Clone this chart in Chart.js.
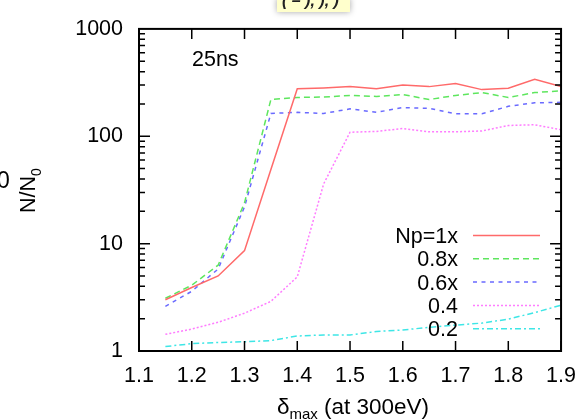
<!DOCTYPE html>
<html><head><meta charset="utf-8">
<script src="https://cdn.jsdelivr.net/npm/chart.js@4/dist/chart.umd.min.js"></script>
<style>html,body{margin:0;padding:0;background:#fff;}</style>
</head><body>
<canvas id="c" width="588" height="420"></canvas>
<script>
const xValues = [1.15,1.2,1.25,1.3,1.35,1.4,1.45,1.5,1.55,1.6,1.65,1.7,1.75,1.8,1.85,1.9];
const np10 = [3.0,3.9,5.0,8.6,49,277,282,290,277,300,290,310,272,280,340,290];
const np08 = [3.1,4.1,6.3,24,220,230,232,240,235,245,220,240,255,230,255,265];
const np06 = [2.6,3.6,5.8,22,163,167,163,180,167,185,182,162,162,190,205,207];
const np04 = [1.43,1.6,1.85,2.25,2.9,4.9,36,109,111,118,110,110,112,126,128,115];
const np02 = [1.10,1.17,1.2,1.22,1.25,1.38,1.41,1.41,1.52,1.57,1.66,1.74,1.82,1.98,2.28,2.67];
const seriesLabels = ['Np=1x','0.8x','0.6x','0.4','0.2'];
const xTicks = [1.1,1.2,1.3,1.4,1.5,1.6,1.7,1.8,1.9];
const yTicks = [1,10,100,1000];

const FONT = 'Liberation Sans';
const FS = 21.5;
const colors = ['#ff6a6a','#5ee65e','#6a6aff','#ff7cff','#3ee6e6'];
const dashes = [[],[6,4],[4,4.5],[2,2],[6,3,2,3]];
const seriesData = [np10,np08,np06,np04,np02];

const datasets = seriesData.map((arr,i)=>({
  label: seriesLabels[i],
  data: xValues.map((x,j)=>({x:x,y:arr[j]})),
  borderColor: colors[i],
  borderDash: dashes[i],
  borderWidth: 1.5,
  pointRadius: 0,
  tension: 0,
  fill: false
}));

const deco = {
  id:'deco',
  afterDraw(chart){
    const {ctx, chartArea:a, scales:{x,y}} = chart;
    ctx.save();
    ctx.strokeStyle='#000'; ctx.lineWidth=2;
    ctx.strokeRect(a.left,a.top,a.right-a.left,a.bottom-a.top);
    ctx.lineWidth=1.5;
    ctx.beginPath();
    xTicks.forEach(v=>{
      const px=x.getPixelForValue(v);
      ctx.moveTo(px,a.bottom); ctx.lineTo(px,a.bottom-10);
      ctx.moveTo(px,a.top); ctx.lineTo(px,a.top+10);
    });
    for(let k=0;k<3;k++){
      for(let m=1;m<=9;m++){
        const v=m*Math.pow(10,k);
        const len = m===1?11:6;
        const py=y.getPixelForValue(v);
        ctx.moveTo(a.left,py); ctx.lineTo(a.left+len,py);
        ctx.moveTo(a.right,py); ctx.lineTo(a.right-len,py);
      }
    }
    ctx.stroke();

    const big=FS+'px "'+FONT+'"', small='14px "'+FONT+'"';
    // legend
    ctx.font = big;
    ctx.fillStyle='#000';
    ctx.textAlign='right'; ctx.textBaseline='alphabetic';
    chart.data.datasets.forEach((ds,i)=>{
      const by = 243 + i*23.3;
      ctx.fillText(ds.label, 458, by);
      ctx.save();
      ctx.strokeStyle=ds.borderColor; ctx.lineWidth=ds.borderWidth;
      ctx.setLineDash(ds.borderDash);
      ctx.beginPath(); ctx.moveTo(473, by-7.5); ctx.lineTo(540, by-7.5); ctx.stroke();
      ctx.restore();
    });

    // 25ns
    ctx.textAlign='left';
    ctx.fillText('25ns', 192, 66);

    // x title
    const tbig='22.5px "'+FONT+'"', tsmall='15px "'+FONT+'"';
    ctx.font=tbig; const w1=ctx.measureText('\u03b4').width; const w3=ctx.measureText(' (at 300eV)').width;
    ctx.font=tsmall; const w2=ctx.measureText('max').width;
    let sx = 353 - (w1+w2+w3)/2;
    ctx.font=tbig; ctx.fillText('\u03b4', sx, 414);
    ctx.font=tsmall; ctx.fillText('max', sx+w1, 419);
    ctx.font=tbig; ctx.fillText(' (at 300eV)', sx+w1+w2, 414);

    // y title
    ctx.save();
    ctx.translate(35, 213); ctx.rotate(-Math.PI/2);
    ctx.font=big; ctx.fillText('N/N', 0, 0);
    const wn=ctx.measureText('N/N').width;
    ctx.font=small; ctx.fillText('0', wn, 6);
    ctx.restore();

    // clipped label at left edge
    ctx.font='23px "'+FONT+'"';
    ctx.fillText('0', -3, 188);

    // clipped note box at top
    ctx.save();
    ctx.shadowColor='rgba(0,0,0,0.35)'; ctx.shadowBlur=6;
    ctx.fillStyle='#ffffcc';
    ctx.fillRect(277,-2,73,14);
    ctx.restore();
    ctx.save();
    ctx.beginPath(); ctx.rect(277,0,73,12); ctx.clip();
    ctx.fillStyle='#222'; ctx.font='italic bold 16px "'+FONT+'"';
    ctx.textAlign='left';
    ctx.fillText('( \u2013 ), ), )', 282, 6);
    ctx.restore();
    ctx.restore();
  }
};

new Chart(document.getElementById('c'), {
  type:'line',
  data:{datasets},
  options:{
    responsive:false, animation:false, devicePixelRatio:1,
    layout:{padding:{top:27,right:21,left:0,bottom:0}},
    plugins:{legend:{display:false}, tooltip:{enabled:false}},
    scales:{
      x:{type:'linear', min:1.1, max:1.9,
        afterBuildTicks:s=>{s.ticks=xTicks.map(v=>({value:v}));},
        ticks:{callback:v=>Number(v).toFixed(1), font:{family:FONT,size:FS}, color:'#000', padding:12, maxRotation:0, autoSkip:false},
        grid:{display:false, drawTicks:false}, border:{display:false},
        afterFit:s=>{s.height=69;}
      },
      y:{type:'logarithmic', min:1, max:1000,
        afterBuildTicks:s=>{s.ticks=yTicks.map(v=>({value:v}));},
        ticks:{callback:v=>String(v), font:{family:FONT,size:FS}, color:'#000', padding:16, autoSkip:false},
        grid:{display:false, drawTicks:false}, border:{display:false},
        afterFit:s=>{s.width=139;}
      }
    }
  },
  plugins:[deco]
});
</script>
</body></html>
